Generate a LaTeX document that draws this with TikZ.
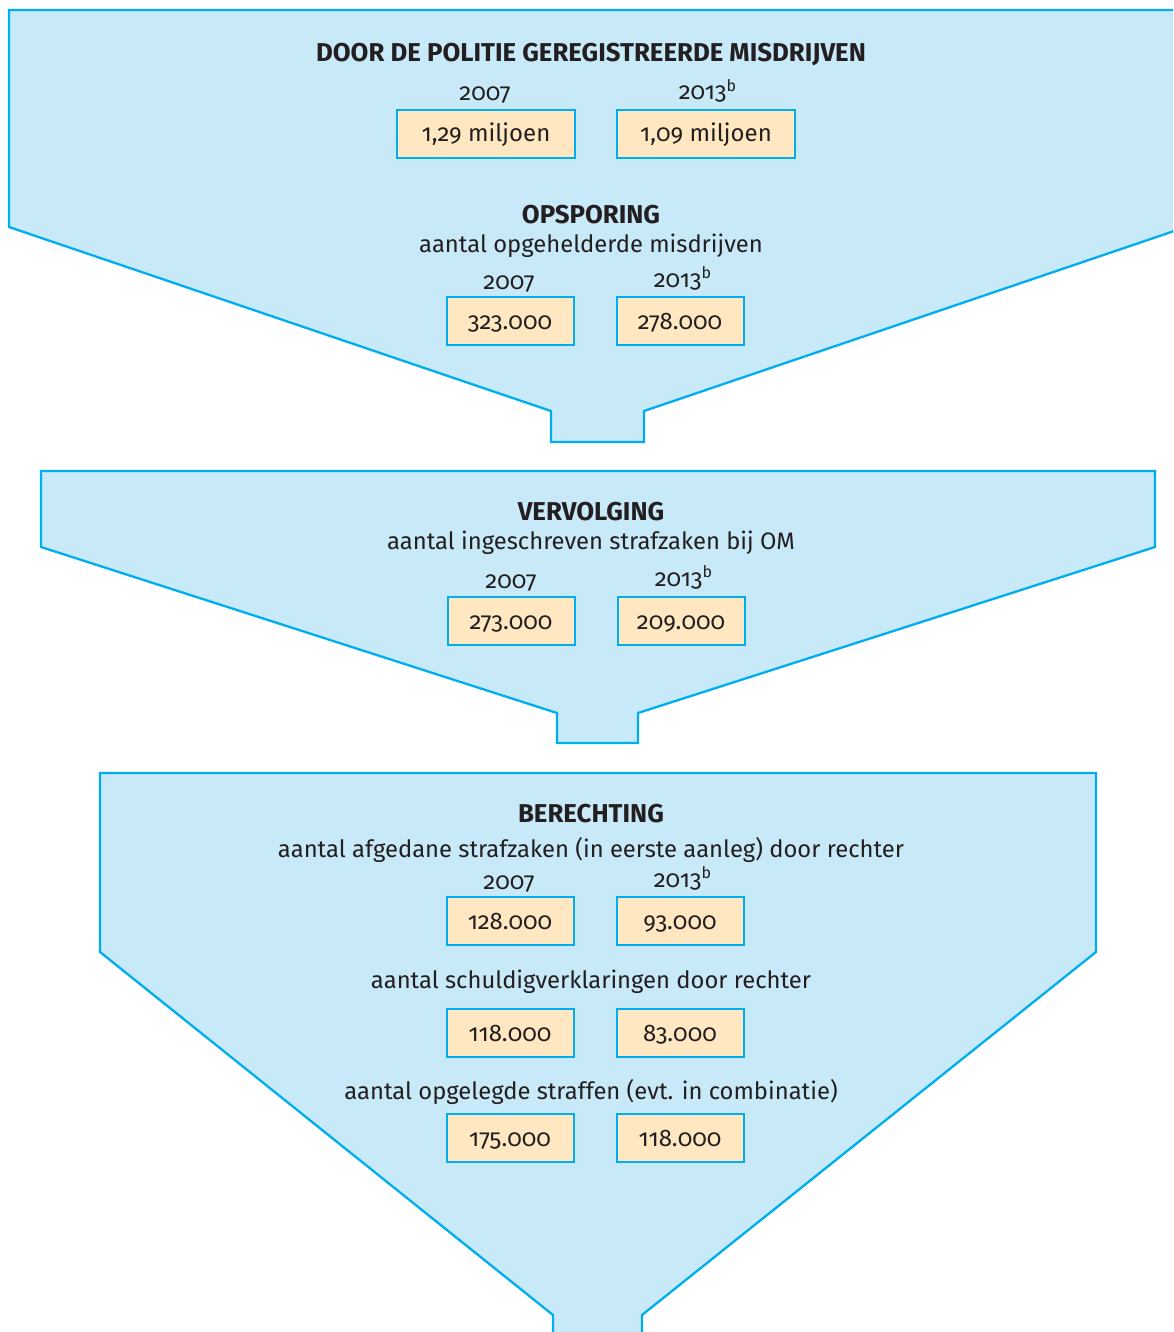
\documentclass[tikz,border=0pt]{standalone}
\usepackage{fontspec}
\setmainfont{Fira Sans}[RawFeature={+onum}]
\usepackage{tikz}
\usepackage{xcolor}
\definecolor{funnelline}{HTML}{00AEEF}
\definecolor{funnelfill}{HTML}{C7E9F8}
\definecolor{boxfill}{HTML}{FFE7C2}
\definecolor{txt}{HTML}{231F20}

\begin{document}
\begin{tikzpicture}[x=0.5pt, y=-0.5pt, align=center, text=txt,
    funnel/.style={draw=funnelline, fill=funnelfill, line width=1.15pt, line join=miter},
    valbox/.style={draw=funnelline, fill=boxfill, line width=1pt, minimum width=63.5pt, minimum height=24pt, inner sep=0pt, text height=8.5pt, text depth=0.5pt, font=\fontsize{12}{14}\selectfont},
    widebox/.style={valbox, minimum width=89pt},
    head/.style={yshift=-1pt, font=\bfseries\fontsize{12.9}{14}\selectfont},
    sub/.style={yshift=-1pt, font=\fontsize{11.9}{14}\selectfont},
    yr/.style={text height=9pt, text depth=1pt, font=\fontsize{12}{14}\selectfont}]
            \useasboundingbox (0,0) rectangle (1173,1332);
            \clip (0,0) rectangle (1173,1332);
            % funnels
            \draw [funnel] (9,10) -- (1186,10) -- (1186,227) -- (644,411) -- (644,442) -- (551,442) -- (551,411) -- (9,227) -- cycle;
            \draw [funnel] (41,471) -- (1155,471) -- (1155,547) -- (638,713) -- (638,743) -- (557,743) -- (557,713) -- (41,547) -- cycle;
            \draw [funnel] (100,773) -- (1096,773) -- (1096,952) -- (642,1315) -- (642,1350) -- (553,1350) -- (553,1315) -- (100,952) -- cycle;
            % politie
            \node [head] (politie) at (591,53) {DOOR DE POLITIE GEREGISTREERDE MISDRIJVEN};
            \node [yr] (pol07) at (485,93) {2007};
            \node [yr] (pol13) at (708,92) {2013\textsuperscript{b}};
            \node [widebox] (polA) at (486,134) {1,29 miljoen};
            \node [widebox] (polB) at (706,134) {1,09 miljoen};
            % opsporing
            \node [head] (opsporing) at (591,213) {OPSPORING};
            \node [sub] (opsSub) at (591,244) {aantal opgehelderde misdrijven};
            \node [yr] (ops07) at (509,281) {2007};
            \node [yr] (ops13) at (683,279) {2013\textsuperscript{b}};
            \node [valbox] (opsA) at (510,321) {323.000};
            \node [valbox] (opsB) at (680,321) {278.000};
            % vervolging
            \node [head] (vervolging) at (591,510) {VERVOLGING};
            \node [sub] (verSub) at (591,541) {aantal ingeschreven strafzaken bij OM};
            \node [yr] (ver07) at (511,580) {2007};
            \node [yr] (ver13) at (684,578) {2013\textsuperscript{b}};
            \node [valbox] (verA) at (511,621) {273.000};
            \node [valbox] (verB) at (681,621) {209.000};
            % berechting
            \node [head] (berechting) at (591,812) {BERECHTING};
            \node [sub] (berSub) at (591,848) {aantal afgedane strafzaken (in eerste aanleg) door rechter};
            \node [yr] (ber07) at (509,881) {2007};
            \node [yr] (ber13) at (683,879) {2013\textsuperscript{b}};
            \node [valbox] (berA) at (510,921) {128.000};
            \node [valbox] (berB) at (680,921) {93.000};
            \node [sub] (schuld) at (591,980) {aantal schuldigverklaringen door rechter};
            \node [valbox] (schA) at (510,1033) {118.000};
            \node [valbox] (schB) at (680,1033) {83.000};
            \node [sub] (straf) at (591,1090) {aantal opgelegde straffen (evt. in combinatie)};
            \node [valbox] (strA) at (510,1138) {175.000};
            \node [valbox] (strB) at (680,1138) {118.000};
\end{tikzpicture}
\end{document}
